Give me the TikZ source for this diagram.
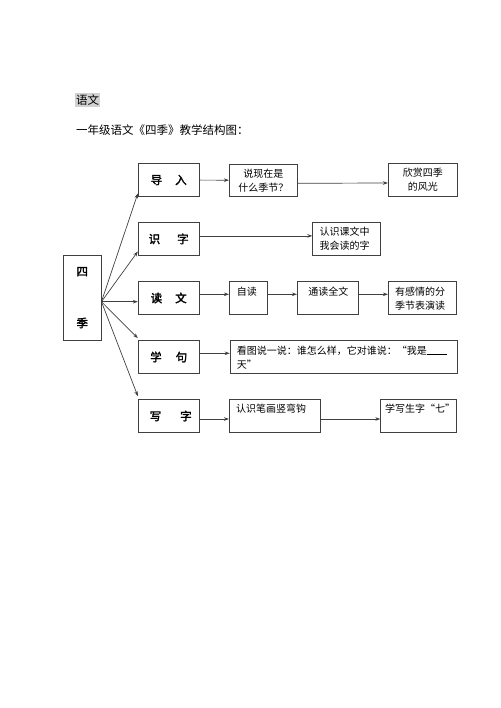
\documentclass[tikz,border=0pt]{standalone}
\usepackage{fontspec}
\newfontfamily\cjk{Noto Sans CJK SC}
\newfontfamily\cjkb[FakeBold=2]{Noto Sans CJK SC}
\usetikzlibrary{arrows.meta}
\begin{document}
\begin{tikzpicture}[x=1pt,y=-1pt,
  box/.style={draw=black!75,line width=0.8pt,inner sep=0pt,minimum height=33pt},
  lbl/.style={font=\cjkb\fontsize{11.5}{13}\selectfont},
  txt/.style={font=\cjk\fontsize{10}{14}\selectfont,inner sep=0pt},
  arr/.style={draw=black!75,line width=0.7pt,-{Stealth[length=5pt,width=3.6pt]}},
  hdr/.style={font=\cjk\fontsize{11.5}{14}\selectfont,inner sep=0pt,anchor=west}]
\useasboundingbox (0,0) rectangle (500,708);
% header
\fill[black!18] (75,92.7) rectangle (100,107.3);
\node[hdr] (h1) at (76,100) {语文};
\node[hdr] (h2) at (76,130) {一年级语文《四季》教学结构图：};
% root
\node[box,minimum width=37.7pt,minimum height=85.7pt] (sj) at (82.2,297.9) {};
\node[lbl] (sjt1) at (82.2,271.7) {四};
\node[lbl] (sjt2) at (82.2,323) {季};
% first column
\node[box,lbl,minimum width=61pt] (dr) at (168.7,180) {导\hspace{13pt}入};
\node[box,lbl,minimum width=61pt] (sz) at (168.7,238.9) {识\hspace{17pt}字};
\node[box,lbl,minimum width=61pt] (dw) at (168.7,298) {读\hspace{13pt}文};
\node[box,lbl,minimum width=61pt] (xj) at (168.7,357) {学\hspace{14pt}句};
\node[box,lbl,minimum width=61pt] (xz) at (168.7,416) {\hspace{4pt}写\hspace{19pt}字};
% other boxes
\node[box,minimum width=68pt,minimum height=32.7pt] (sx) at (263.3,180.3) {};
\node[txt,align=center] at (sx.center) {说现在是\\什么季节？};
\node[box,minimum width=69pt,minimum height=33.4pt] (xs) at (422.8,180) {};
\node[txt,align=center] at (xs.center) {欣赏四季\\的风光};
\node[box,minimum width=68pt,minimum height=32.3pt] (rs) at (346.7,238.9) {};
\node[txt,align=left,anchor=west] at (319.3,239) {认识课文中\\我会读的字};
\node[box,minimum width=38pt,minimum height=32.6pt] (zd) at (248.3,298) {};
\node[txt,anchor=west] at (236.7,291.7) {自读};
\node[box,minimum width=61pt,minimum height=32.6pt] (td) at (327.8,298) {};
\node[txt] at (328.3,291.7) {通读全文};
\node[box,minimum width=68.4pt,minimum height=32.6pt] (yg) at (422.5,298) {};
\node[txt,align=center] at (420,298.3) {有感情的分\\季节表演读};
\node[box,minimum width=227.3pt,minimum height=32.6pt] (kt) at (343.7,357) {};
\node[txt,align=left,anchor=west] at (236.7,357.2) {看图说一说：谁怎么样，它对谁说：“我是\rule[-1pt]{20pt}{0.6pt}\\天”};
\node[box,minimum width=91.4pt,minimum height=33.4pt] (rb) at (275,416) {};
\node[txt,anchor=west] at (236,408.3) {认识笔画竖弯钩};
\node[box,minimum width=76pt,minimum height=33.4pt] (xx) at (418.7,416) {};
\node[txt] at (420,408.3) {学写生字“七”};
% fan
\coordinate (fo) at ([yshift=-3.8pt]sj.east);
\draw[arr] (fo) -- ([yshift=3.4pt]dr.south west);
\draw[arr] (fo) -- ([yshift=4.3pt]sz.south west);
\draw[arr] (fo) -- (fo -| dw.west);
\draw[arr] (fo) -- ([yshift=2pt]xj.north west);
\draw[arr] (fo) -- ([yshift=3pt]xz.north west);
% horizontal arrows
\draw[arr] (dr) -- (sx);
\draw[arr] ([yshift=-3pt]sx.east) -- ([yshift=-3pt]xs.west);
\draw[arr] ([yshift=3pt]sz.east) -- ([yshift=3pt]rs.west);
\draw[arr] ([yshift=3.7pt]dw.east) -- ([yshift=3.7pt]zd.west);
\draw[arr] ([yshift=3.7pt]zd.east) -- ([yshift=3.7pt]td.west);
\draw[arr] ([yshift=3.7pt]td.east) -- ([yshift=3.7pt]yg.west);
\draw[arr] ([yshift=3.7pt]xj.east) -- ([yshift=3.7pt]kt.west);
\draw[arr] ([yshift=-3pt]xz.east) -- ([yshift=-3pt]rb.west);
\draw[arr] ([yshift=-3pt]rb.east) -- ([yshift=-3pt]xx.west);
\end{tikzpicture}
\end{document}
